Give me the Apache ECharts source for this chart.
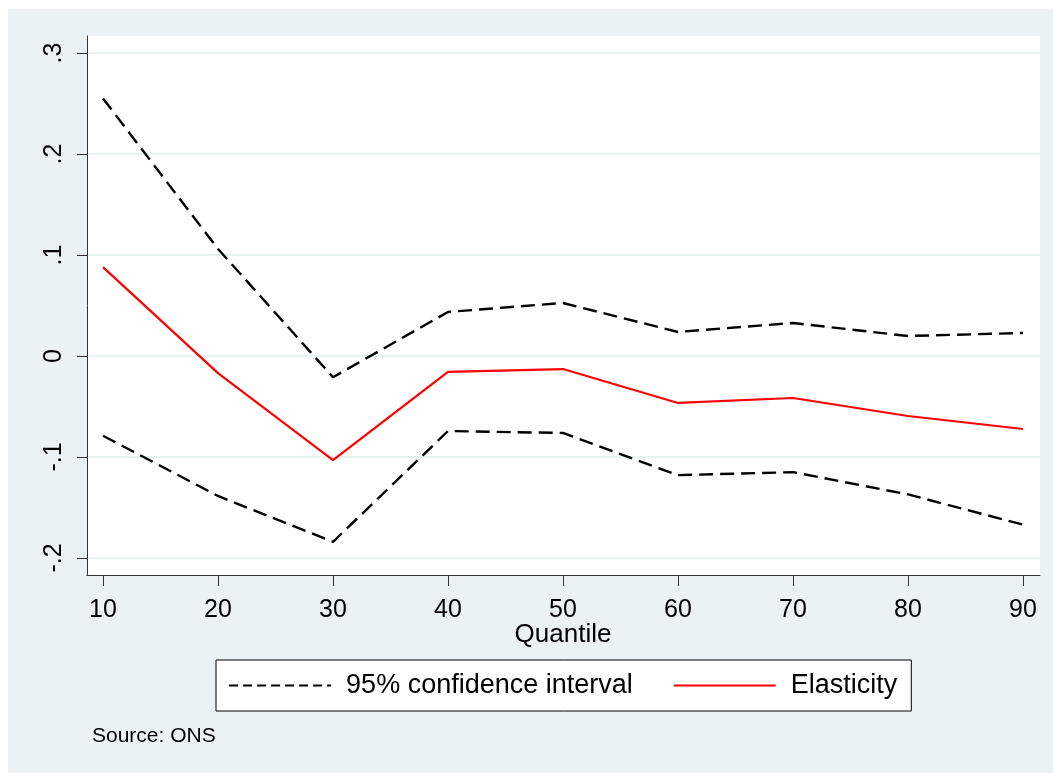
<!DOCTYPE html>
<html>
<head>
<meta charset="utf-8">
<script src="https://cdn.jsdelivr.net/npm/echarts@6/dist/echarts.min.js"></script>
<style>
html,body{margin:0;padding:0;background:#fff;}
#chart{width:1053px;height:773px;}
</style>
</head>
<body>
<div id="chart"></div>
<script>
// Data
var quantiles = [10, 20, 30, 40, 50, 60, 70, 80, 90];
var upperCI   = [0.255, 0.106, -0.021, 0.0436, 0.0525, 0.0238, 0.0327, 0.0198, 0.0228];
var elasticity= [0.088, -0.017, -0.103, -0.0158, -0.0129, -0.0465, -0.0416, -0.0594, -0.0723];
var lowerCI   = [-0.079, -0.1386, -0.184, -0.0743, -0.0762, -0.118, -0.115, -0.137, -0.167];
var yTicks = [-0.2, -0.1, 0, 0.1, 0.2, 0.3];
var ciName = '95% confidence interval';
var elName = 'Elasticity';
var sourceText = 'Source: ONS';
var xTitle = 'Quantile';

function pairs(xs, ys){ return xs.map(function(x,i){ return [x, ys[i]]; }); }
function yFmt(v){
  var r = Math.round(v*10)/10;
  if (r === 0) return '0';
  var s = Math.abs(r).toFixed(1).replace(/^0/, '');
  return (r < 0 ? '-' : '') + s;
}

var FONT = '"Liberation Sans", Arial, Helvetica, sans-serif';
var chart = echarts.init(document.getElementById('chart'), null, {renderer:'canvas'});
var dash = {color:'#000', width:2.4, type:[14,7]};
var option = {
  animation: false,
  backgroundColor: 'transparent',
  textStyle: {fontFamily: FONT},
  graphic: [
    {type:'rect', z:-1, left:8, top:9, shape:{width:1045, height:764}, style:{fill:'#EAF2F3'}, silent:true},
    {type:'text', left:92, top:726, style:{text: sourceText, font: '21px ' + FONT, fill:'#000'}}
  ],
  grid: [
    {left:87, right:13, top:36, bottom:198, show:true, backgroundColor:'#fff', borderWidth:0},
    {left:87, right:13, top:53, bottom:215},
    {left:103, right:30, top:53, bottom:215}
  ],
  xAxis: [
    {gridIndex:0, type:'value', min:0, max:1, axisLine:{show:true, onZero:false, lineStyle:{color:'#333', width:1}}, axisTick:{show:false}, axisLabel:{show:false}, splitLine:{show:false}},
    {gridIndex:1, type:'value', min:0, max:1, show:false},
    {gridIndex:2, type:'value', position:'bottom', min:10, max:90, interval:10, offset:17,
      axisLine:{show:false, onZero:false}, axisTick:{show:true, length:11, lineStyle:{color:'#333', width:1}},
      axisLabel:{fontSize:25, color:'#000', margin:23, fontFamily:FONT},
      splitLine:{show:false},
      name: xTitle, nameLocation:'middle', nameGap:47, nameMoveOverlap:false,
      nameTextStyle:{fontSize:26, color:'#000', fontFamily:FONT}}
  ],
  yAxis: [
    {gridIndex:0, type:'value', min:0, max:1, axisLine:{show:true, onZero:false, lineStyle:{color:'#333', width:1}}, axisTick:{show:false}, axisLabel:{show:false}, splitLine:{show:false}},
    {gridIndex:1, type:'value', min:yTicks[0], max:yTicks[yTicks.length-1], interval:0.1,
      axisLine:{show:false, onZero:false}, axisTick:{show:true, length:10, lineStyle:{color:'#333', width:1}},
      axisLabel:{rotate:90, fontSize:25, color:'#000', margin:20, formatter: yFmt, fontFamily:FONT},
      splitLine:{show:true, lineStyle:{color:'#EAF2F3', width:2}}},
    {gridIndex:2, type:'value', min:yTicks[0], max:yTicks[yTicks.length-1], show:false}
  ],
  legend: {
    data: [{name: ciName, lineStyle:{type:[9,5], width:2.2}}, elName],
    left: 216, top: 660,
    orient: 'horizontal',
    itemWidth: 102, itemHeight: 14, itemGap: 40,
    padding: [12, 14, 12, 12],
    borderColor: '#000', borderWidth: 1, backgroundColor: '#fff',
    itemStyle: {opacity: 0},
    textStyle: {fontSize: 27, color:'#000', fontFamily: FONT, padding:[0,0,0,10]},
    selectedMode: false
  },
  series: [
    {name: ciName, type:'line', xAxisIndex:2, yAxisIndex:2, data: pairs(quantiles, upperCI), symbol:'none',
      lineStyle: dash, itemStyle:{color:'#000'}},
    {name: elName, type:'line', xAxisIndex:2, yAxisIndex:2, data: pairs(quantiles, elasticity), symbol:'none',
      lineStyle:{color:'#ff0000', width:2.2}, itemStyle:{color:'#ff0000'}},
    {name: ciName, type:'line', xAxisIndex:2, yAxisIndex:2, data: pairs(quantiles, lowerCI), symbol:'none',
      lineStyle: dash, itemStyle:{color:'#000'}}
  ]
};
chart.setOption(option);
</script>
</body>
</html>
